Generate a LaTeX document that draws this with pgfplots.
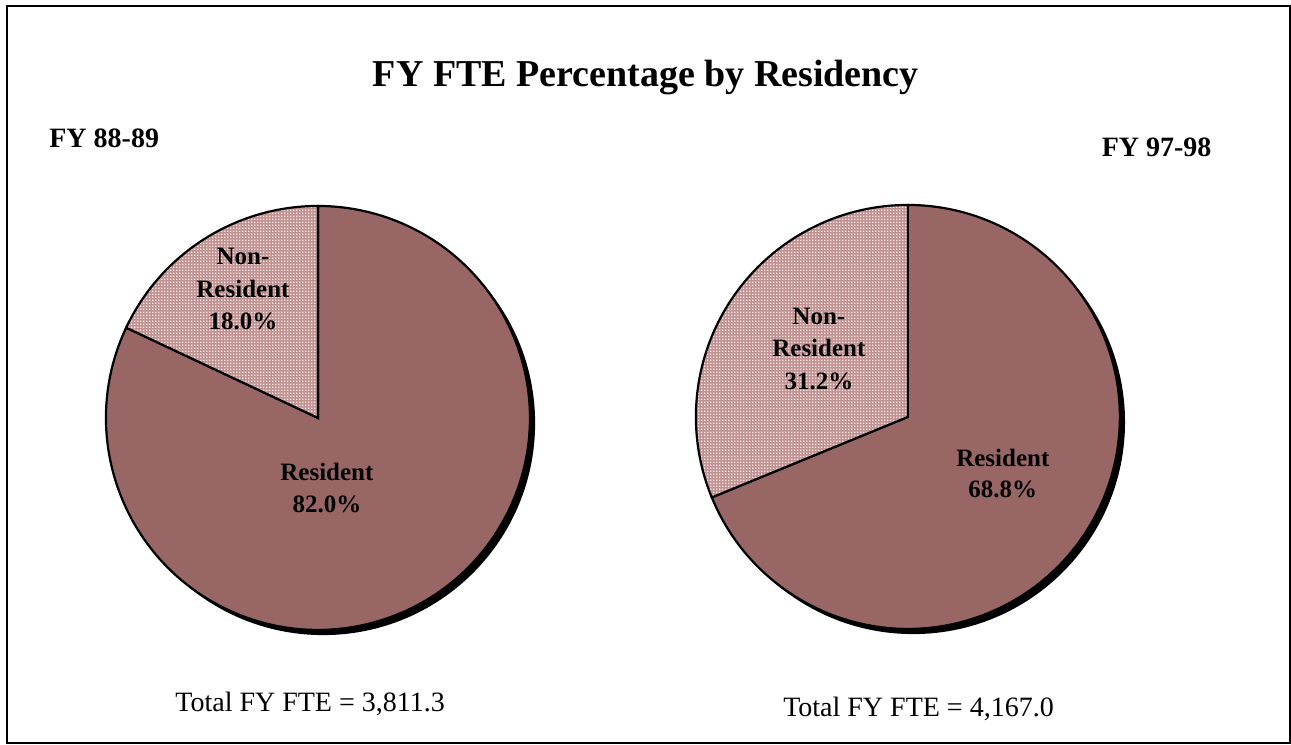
\documentclass[border=0pt]{standalone}
\usepackage{fontspec}
\setmainfont{Liberation Serif}
\usepackage{pgfplots}
\pgfplotsset{compat=1.18}
\usepackage{pgfplotstable}
\usetikzlibrary{patterns}
\definecolor{resident}{RGB}{153,102,102}
\definecolor{nonresbase}{RGB}{192,146,146}

% fine dot screen used for the non-resident slice
\pgfdeclarepatternformonly{finedots}{\pgfpointorigin}{\pgfpoint{1.5pt}{1.5pt}}{\pgfpoint{1.5pt}{1.5pt}}{%
  \pgfpathrectangle{\pgfpointorigin}{\pgfpoint{0.65pt}{0.65pt}}\pgfusepath{fill}}

% share of FTE (percent)
\pgfplotstableread{
group  resident nonresident
8889   82.0     18.0
9798   68.8     31.2
}\fte

\pgfplotsset{pieaxis/.style={
  hide axis, scale only axis, clip=false, anchor=center,
  width=212pt, height=212pt,
  xmin=-1, xmax=1, ymin=-1, ymax=1}}

% #1 = non-resident percent
\newcommand{\pie}[1]{%
  \pgfmathsetmacro\a{90+3.6*#1}%
  \fill[black] (axis cs:0,0) ++(2.6pt,-2.6pt) circle[radius=106pt];
  \filldraw[fill=resident, draw=black, line width=1.1pt]
    (axis cs:0,0) -- ++(\a:106pt) arc[start angle=\a, end angle=450, radius=106pt] -- cycle;
  \fill[nonresbase] (axis cs:0,0) -- ++(90:106pt) arc[start angle=90, end angle=\a, radius=106pt] -- cycle;
  \fill[pattern=finedots, pattern color=white!90!red] (axis cs:0,0) -- ++(90:106pt) arc[start angle=90, end angle=\a, radius=106pt] -- cycle;
  \draw[black, line width=1.1pt] (axis cs:0,0) -- ++(90:106pt) arc[start angle=90, end angle=\a, radius=106pt] -- cycle;
}
\newcommand{\pct}[1]{\pgfmathprintnumber[fixed,fixed zerofill,precision=1,assume math mode=true]{#1}\%}

\begin{document}
\begin{tikzpicture}[x=0.5pt, y=0.5pt]
\path (0,0) rectangle (1291,745);
\draw[line width=1.2pt] (7,739) rectangle (1290,2);

\pgfplotstablegetelem{0}{nonresident}\of\fte \let\nrA\pgfplotsretval
\pgfplotstablegetelem{1}{nonresident}\of\fte \let\nrB\pgfplotsretval
\pgfplotstablegetelem{0}{resident}\of\fte \let\rA\pgfplotsretval
\pgfplotstablegetelem{1}{resident}\of\fte \let\rB\pgfplotsretval

\begin{axis}[pieaxis, at={(159pt,163.5pt)}]
  \pie{\nrA}
\end{axis}
\begin{axis}[pieaxis, at={(454pt,164pt)}]
  \pie{\nrB}
\end{axis}

\node[font=\fontsize{19}{22}\selectfont\bfseries, anchor=base] at (646,{745-87}) {FY FTE Percentage by Residency};
\node[font=\fontsize{14}{17}\selectfont\bfseries, anchor=base west, inner sep=0] at (49,{745-148}) {FY 88-89};
\node[font=\fontsize{14}{17}\selectfont\bfseries, anchor=base east, inner sep=0] at (1212,{745-157}) {FY 97-98};
\node[font=\fontsize{14}{17}\selectfont, anchor=base west, inner sep=0] at (175,{745-712}) {Total FY FTE = 3,811.3};
\node[font=\fontsize{14}{17}\selectfont, anchor=base west, inner sep=0] at (783,{745-717}) {Total FY FTE = 4,167.0};

\begin{scope}[every node/.style={font=\fontsize{12.5}{15}\selectfont\bfseries, anchor=base, inner sep=0}]
  \node at (243,{745-265}) {Non-};
  \node at (243,{745-298}) {Resident};
  \node at (243,{745-330}) {\pct{\nrA}};
  \node at (327,{745-481}) {Resident};
  \node at (327,{745-513}) {\pct{\rA}};
  \node at (819,{745-325}) {Non-};
  \node at (819,{745-357}) {Resident};
  \node at (819,{745-390}) {\pct{\nrB}};
  \node at (1003,{745-467}) {Resident};
  \node at (1003,{745-498}) {\pct{\rB}};
\end{scope}
\end{tikzpicture}
\end{document}
